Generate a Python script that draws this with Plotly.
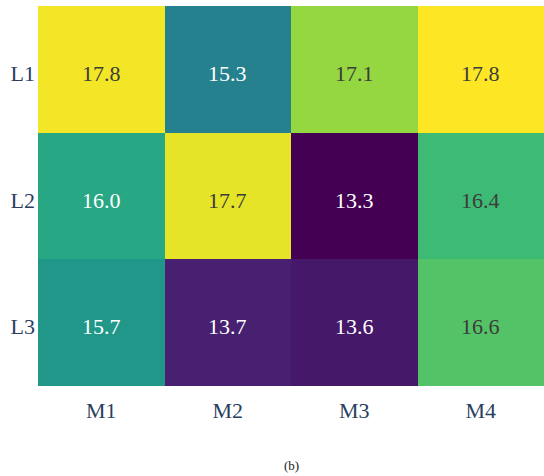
import plotly.graph_objects as go

models = ["M1", "M2", "M3", "M4"]
layers = ["L1", "L2", "L3"]
row_L1 = [17.76, 15.3, 17.1, 17.84]
row_L2 = [16.0, 17.68, 13.3, 16.4]
row_L3 = [15.7, 13.7, 13.6, 16.6]
values = [row_L1, row_L2, row_L3]

zmin = min(min(r) for r in values)
zmax = max(max(r) for r in values)

fig = go.Figure(go.Heatmap(
    z=values, x=models, y=layers,
    colorscale="Viridis", showscale=False,
    zmin=zmin, zmax=zmax, xgap=0, ygap=0,
    hoverinfo="skip",
))

FONT = "'Liberation Serif', 'Times New Roman', 'DejaVu Serif', serif"
for i, row in enumerate(values):
    for j, v in enumerate(row):
        color = "#3c3c3c" if v > 16.2 else "white"
        fig.add_annotation(x=models[j], y=layers[i], text=f"{v:.1f}",
                           showarrow=False, yshift=-4,
                           font=dict(family=FONT, size=22, color=color))

fig.add_annotation(xref="paper", yref="paper", x=0.5, y=-0.208, yanchor="middle",
                   text="(b)", showarrow=False,
                   font=dict(family=FONT, size=13, color="#222222"))

fig.update_layout(
    width=544, height=476,
    margin=dict(l=38, r=0, t=6, b=90, autoexpand=False),
    paper_bgcolor="white", plot_bgcolor="white",
    font=dict(family=FONT, size=22, color="#2a3f5f"),
    xaxis=dict(showgrid=False, zeroline=False, ticks="", ticklabelstandoff=9,
               automargin=False,
               tickfont=dict(family=FONT, size=22, color="#2a3f5f")),
    yaxis=dict(showgrid=False, zeroline=False, ticks="", autorange="reversed",
               ticklabelstandoff=2, ticklabelshift=-4, automargin=False,
               tickfont=dict(family=FONT, size=22, color="#2a3f5f")),
)

fig.write_html("out.html", config={"displayModeBar": False},
               post_script="document.body.style.margin='0';")
